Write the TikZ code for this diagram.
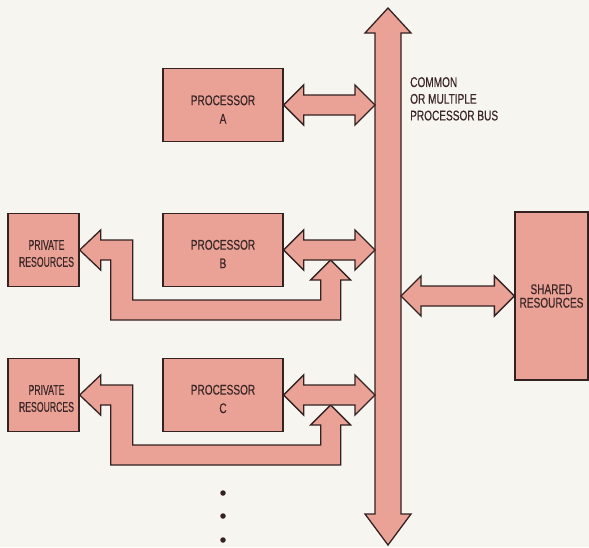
\documentclass[tikz,border=0pt]{standalone}
\usepackage{fontspec}
\setmainfont{Liberation Sans}
\newfontfamily\condA[FakeStretch=0.72,FakeBold=0.4]{Liberation Sans}
\newfontfamily\condB[FakeStretch=0.62,FakeBold=0.4]{Liberation Sans}
\usetikzlibrary{calc}
\definecolor{pinkfill}{RGB}{234,162,150}
\definecolor{ink}{RGB}{50,34,34}
\definecolor{txt}{RGB}{58,38,38}
\definecolor{paper}{RGB}{247,245,240}
\newcommand\dblarrow[2]{%
  \path[shp] let \p1=(#1), \p2=(#2) in
    (\x1,\y1) -- (\x1+20pt,\y1+20pt) -- (\x1+20pt,\y1+10pt) -- (\x2-20pt,\y1+10pt)
    -- (\x2-20pt,\y1+20pt) -- (\x2,\y1) -- (\x2-20pt,\y1-20pt) -- (\x2-20pt,\y1-10pt)
    -- (\x1+20pt,\y1-10pt) -- (\x1+20pt,\y1-20pt) -- cycle;}
\newcommand\uarrow[2]{%
  \path[shp] let \p1=(#1), \p2=(#2) in
    (\x1,\y1) -- (\x1+21pt,\y1+20pt) -- (\x1+21pt,\y1+10pt) -- (\x1+53pt,\y1+10pt)
    -- (\x1+53pt,\y1-50pt) -- (\x2-10pt,\y1-50pt) -- (\x2-10pt,\y1-30pt)
    -- (\x2-20pt,\y1-30pt) -- (\x2,\y2) -- (\x2+20pt,\y1-30pt) -- (\x2+10pt,\y1-30pt)
    -- (\x2+10pt,\y1-70pt) -- (\x1+31pt,\y1-70pt) -- (\x1+31pt,\y1-10pt)
    -- (\x1+21pt,\y1-10pt) -- (\x1+21pt,\y1-20pt) -- cycle;}
\begin{document}
\begin{tikzpicture}[x=1pt,y=-1pt,
  shp/.style={fill=pinkfill,draw=ink,line width=1.3pt,line join=miter},
  lbl/.style={inner sep=0pt,text=txt,align=center,font=\condA\fontsize{14}{18.5}\selectfont},
  box/.style={shp,rectangle,inner sep=0pt},
  procbox/.style={box,minimum width=120pt,minimum height=73pt},
  privbox/.style={box,minimum width=71pt,minimum height=73pt},
  privlbl/.style={lbl,font=\condB\fontsize{14}{17}\selectfont},
  sharedbox/.style={box,minimum width=73pt,minimum height=168pt},
  sharedlbl/.style={lbl,font=\condA\fontsize{14}{13.5}\selectfont},
  dotst/.style={circle,fill=ink,inner sep=0pt,minimum size=5.5pt}]
\fill[paper] (0,0) rectangle (589,547);
\useasboundingbox (0,0) rectangle (589,547);
% bus
\path[shp] (388,8) -- (411,33) -- (401,33) -- (401,514) -- (411,514) -- (388,545)
  -- (365,514) -- (375,514) -- (375,33) -- (365,33) -- cycle;
\coordinate (busL) at (375,0);
\coordinate (busR) at (401,0);
\node[anchor=north west,inner sep=0pt,align=left,text=txt,
  font=\condA\fontsize{14}{16.7}\selectfont] (buslabel) at (410,77)
  {COMMON\\OR MULTIPLE\\PROCESSOR BUS};
% processors
\node[procbox] (pa) at (223,105) {};
\node[procbox] (pb) at (223,250) {};
\node[procbox] (pc) at (223,395) {};
\node[lbl] (pat) at ($(pa.center)+(0,4.5)$) {PROCESSOR\\A};
\node[lbl] (pbt) at ($(pb.center)+(0,4)$) {PROCESSOR\\B};
\node[lbl] (pct) at ($(pc.center)+(0,4)$) {PROCESSOR\\C};
\node[privbox] (rb) at (43.5,250) {};
\node[privbox] (rc) at (43.5,395) {};
\node[privlbl] (rbt) at ($(rb.center)+(3,3.5)$) {PRIVATE\\RESOURCES};
\node[privlbl] (rct) at ($(rc.center)+(3,3.5)$) {PRIVATE\\RESOURCES};
\node[sharedbox] (sr) at (551.5,296) {};
\node[sharedlbl] (srt) at (sr.center) {SHARED\\RESOURCES};
% junctions on processor links
\coordinate (jb) at ($(pb.east)+(47,10)$);
\coordinate (jc) at ($(pc.east)+(47,10)$);
% arrows
\uarrow{rb.east}{jb}
\uarrow{rc.east}{jc}
\dblarrow{pa.east}{busL |- pa.east}
\dblarrow{pb.east}{busL |- pb.east}
\dblarrow{pc.east}{busL |- pc.east}
\dblarrow{busR |- sr.west}{sr.west}
% continuation dots
\node[dotst] (d1) at (223,493) {};
\node[dotst] (d2) at (223,516) {};
\node[dotst] (d3) at (223,540) {};
\end{tikzpicture}
\end{document}
